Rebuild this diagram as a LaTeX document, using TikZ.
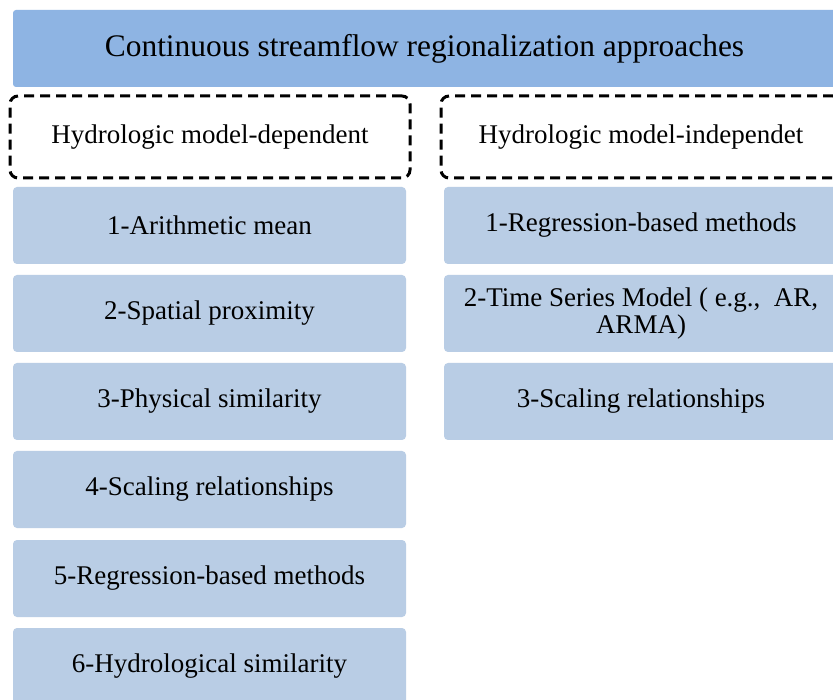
\documentclass[tikz,border=0pt]{standalone}
\usepackage{fontspec}
\setmainfont{Liberation Serif}
\definecolor{topblue}{HTML}{8EB4E3}
\definecolor{boxblue}{HTML}{B9CDE5}
\begin{document}
\begin{tikzpicture}[x=1pt,y=-1pt,
  topbox/.style={rectangle, rounded corners=3pt, fill=topblue, draw=none, inner sep=0pt,
    minimum width=823pt, minimum height=77pt, font=\fontsize{31.4}{36}\selectfont},
  groupbox/.style={rectangle, rounded corners=8pt, draw=black, line width=3pt,
    dash pattern=on 10pt off 6pt, fill=white, inner sep=0pt,
    minimum width=400pt, minimum height=82pt, font=\fontsize{27}{30}\selectfont},
  itembox/.style={rectangle, rounded corners=4pt, fill=boxblue, draw=none, inner sep=0pt,
    minimum height=77pt, align=center, font=\fontsize{27}{27}\selectfont},
  leftitem/.style={itembox, minimum width=393pt},
  rightitem/.style={itembox, minimum width=394pt}]
\clip (0,0) rectangle (833,700);
\fill[white] (0,0) rectangle (833,700);
\node[topbox] (title) at (424.5,48.5) {Continuous streamflow regionalization approaches};
\node[groupbox] (dep) at (210,137) {Hydrologic model-dependent};
\node[groupbox] (indep) at (641,137) {Hydrologic model-independet};
\node[leftitem] (l1) at (209.5,225.5) {1-Arithmetic mean};
\node[leftitem] (l2) at (209.5,313.5) {2-Spatial proximity};
\node[leftitem] (l3) at (209.5,401.5) {3-Physical similarity};
\node[leftitem] (l4) at (209.5,489.5) {4-Scaling relationships};
\node[leftitem] (l5) at (209.5,578.5) {5-Regression-based methods};
\node[leftitem] (l6) at (209.5,666.5) {6-Hydrological similarity};
\node[rightitem] (r1) at (641,225.5) {1-Regression-based methods};
\node[rightitem] (r2) at (641,313.5) {2-Time Series Model ( e.g.,\ \ AR,\\ ARMA)};
\node[rightitem] (r3) at (641,401.5) {3-Scaling relationships};
\end{tikzpicture}
\end{document}
